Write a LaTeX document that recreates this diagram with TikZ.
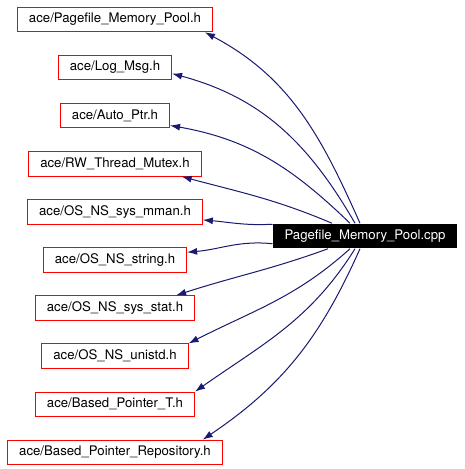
\documentclass[tikz,border=0pt]{standalone}
\usepackage{fontspec}
\setmainfont{TeX Gyre Heros}
\usetikzlibrary{arrows.meta}

\definecolor{edgeblue}{HTML}{191970}

\begin{document}
\begin{tikzpicture}[->,>={Latex[length=10pt,width=7pt]},node distance=48.1pt,
    line width=1pt,font=\fontsize{13.2}{15}\selectfont,
    file node/.style={rectangle,draw=red,inner xsep=11.5pt,inner ysep=0pt,minimum height=24.5pt},
    main node/.style={rectangle,fill=black,text=white,inner xsep=11.5pt,inner ysep=0pt,minimum height=24.5pt},
    dep/.style={draw=edgeblue}]

  \useasboundingbox (0,0) rectangle (464pt,-469pt);

  \node[file node] (pmp) at (115pt,-19.5pt) {ace/Pagefile\_Memory\_Pool.h};
  \node[file node] (logmsg) [below of=pmp] {ace/Log\_Msg.h};
  \node[file node] (autoptr) [below of=logmsg] {ace/Auto\_Ptr.h};
  \node[file node] (rwmutex) [below of=autoptr] {ace/RW\_Thread\_Mutex.h};
  \node[file node] (sysmman) [below of=rwmutex] {ace/OS\_NS\_sys\_mman.h};
  \node[file node] (nsstring) [below of=sysmman] {ace/OS\_NS\_string.h};
  \node[file node] (sysstat) [below of=nsstring] {ace/OS\_NS\_sys\_stat.h};
  \node[file node] (unistd) [below of=sysstat] {ace/OS\_NS\_unistd.h};
  \node[file node] (bptrt) [below of=unistd] {ace/Based\_Pointer\_T.h};
  \node[file node] (bptrrepo) [below of=bptrt] {ace/Based\_Pointer\_Repository.h};

  \node[main node] (cpp) at (365pt,-236pt) {Pagefile\_Memory\_Pool.cpp};

  \path ([xshift=-5pt]cpp.north) edge[dep,out=114,in=-28] ([xshift=-8pt]pmp.south east)
        ([xshift=-10pt]cpp.north) edge[dep,out=120,in=-15] ([yshift=-6pt]logmsg.east)
        ([xshift=-15pt]cpp.north) edge[dep,out=136,in=-10] ([yshift=3pt]autoptr.south east)
        ([xshift=-33pt]cpp.north) edge[dep,out=157,in=-15] ([xshift=-20pt]rwmutex.south east)
        ([yshift=-1pt]cpp.north west) edge[dep,out=183,in=-5] ([yshift=-8pt]sysmman.east)
        ([yshift=5pt]cpp.south west) edge[dep,out=174,in=5] ([yshift=-5pt]nsstring.north east)
        ([xshift=-37pt]cpp.south) edge[dep,out=200,in=18] ([xshift=-19pt]sysstat.north east)
        ([xshift=-15pt]cpp.south) edge[dep,out=222,in=27] (unistd.north east)
        ([xshift=-10pt]cpp.south) edge[dep,out=238,in=35] (bptrt.north east)
        ([xshift=-5pt]cpp.south) edge[dep,out=246,in=34] ([xshift=-20pt]bptrrepo.north east);

\end{tikzpicture}
\end{document}
